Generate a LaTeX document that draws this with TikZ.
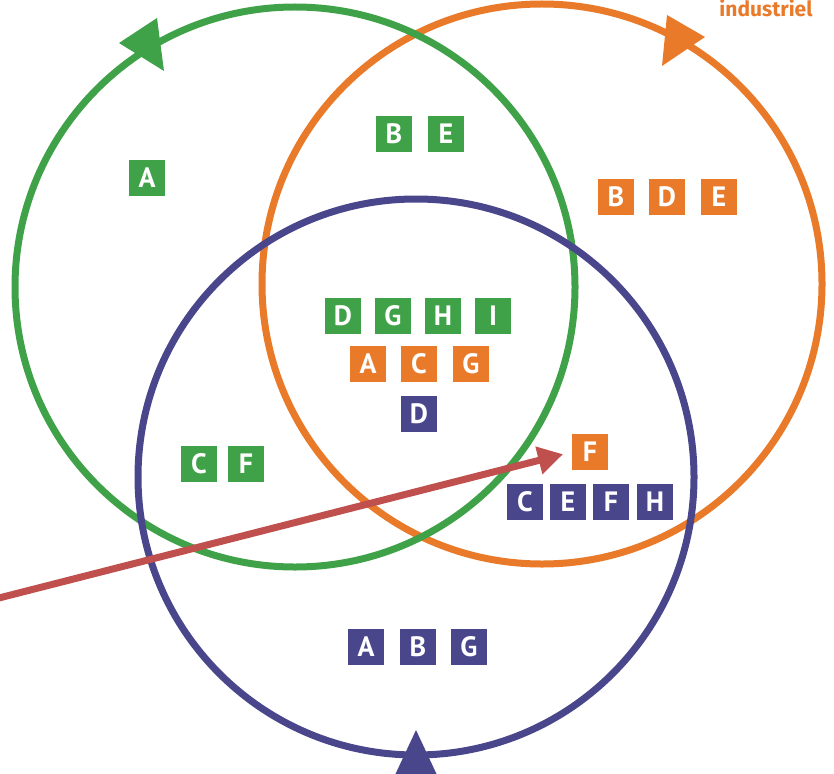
\documentclass[tikz,border=0pt]{standalone}
\usepackage{fontspec}
\setmainfont{PT Sans}
\newfontfamily\labelfont{Fira Sans}
\usetikzlibrary{arrows.meta}

\definecolor{vgreen}{RGB}{64,162,72}
\definecolor{vorange}{RGB}{232,122,42}
\definecolor{vpurple}{RGB}{74,70,140}
\definecolor{vred}{RGB}{192,80,77}

\tikzset{
  letterbox/.style={minimum size=36pt, inner sep=0pt, text=white,
    font=\fontsize{28}{30}\selectfont\bfseries},
  greenbox/.style={letterbox, fill=vgreen},
  orangebox/.style={letterbox, fill=vorange},
  purplebox/.style={letterbox, fill=vpurple},
  ring/.style={line width=7pt}
}

\begin{document}
\begin{tikzpicture}[x=1pt, y=-1pt]
            \useasboundingbox (0,0) rectangle (834,773);
            \clip (0,0) rectangle (834,773);

            % circles
            \draw[ring, vorange] (542,284) circle (280);
            \draw[ring, vgreen] (295,287) circle (280);
            \draw[ring, vpurple] (416,477) circle (278);

            % arrow heads on the circles
            \fill[vgreen] (119,43) -- (157,18) -- (164,71) -- cycle;
            \fill[vorange] (705,37) -- (667,15) -- (662,66) -- cycle;
            \fill[vpurple] (416,730) -- (388,790) -- (444,790) -- cycle;

            \node[anchor=base, text=vorange, font=\labelfont\fontsize{21}{23}\selectfont\bfseries] (title) at (766,17) {industriel};

            % green only
            \node[greenbox] (gA) at (147,178) {A};
            % green and orange
            \node[greenbox] (gB) at (394,134) {B};
            \node[greenbox] (gE) at (446,134) {E};
            % orange only
            \node[orangebox] (oB) at (616,197) {B};
            \node[orangebox] (oD) at (667,197) {D};
            \node[orangebox] (oE) at (719,197) {E};
            % middle
            \node[greenbox] (gD) at (343,316) {D};
            \node[greenbox] (gG) at (393,316) {G};
            \node[greenbox] (gH) at (443,316) {H};
            \node[greenbox] (gI) at (493,316) {I};
            \node[orangebox] (oA) at (368,364) {A};
            \node[orangebox] (oC) at (419,364) {C};
            \node[orangebox] (oG) at (471,364) {G};
            \node[purplebox] (pD) at (419,414) {D};
            % green and purple
            \node[greenbox] (gC) at (199,464) {C};
            \node[greenbox] (gF) at (246,464) {F};
            % orange and purple
            \node[orangebox] (oF) at (590,452) {F};
            \node[purplebox] (pC) at (525,502) {C};
            \node[purplebox] (pE) at (568,502) {E};
            \node[purplebox] (pF) at (611,502) {F};
            \node[purplebox] (pH) at (655,502) {H};
            % purple only
            \node[purplebox] (pA) at (366,647) {A};
            \node[purplebox] (pB) at (418,647) {B};
            \node[purplebox] (pG) at (469,647) {G};

            % pointer
            \coordinate (start) at (-5,599);
            \draw[vred, line width=7pt, -{Triangle[length=25pt,width=27pt]}, shorten >=9pt] (start) -- (oF.west);
        \end{tikzpicture}
\end{document}
